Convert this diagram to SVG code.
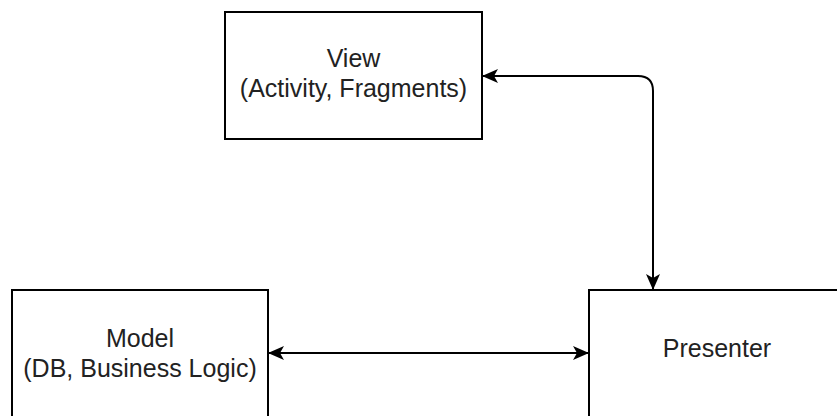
<svg xmlns="http://www.w3.org/2000/svg" width="837" height="416" viewBox="0 0 837 416">
  <style>
    .box { fill: #ffffff; stroke: #000000; stroke-width: 2; }
    .lbl { font-family: "Liberation Sans", Arial, sans-serif; font-size: 25px; fill: #222222; text-anchor: middle; }
    .edge { fill: none; stroke: #000000; stroke-width: 2; }
  </style>
  <defs>
    <marker id="head" viewBox="0 0 16 14" refX="15" refY="7" markerWidth="16" markerHeight="14" markerUnits="userSpaceOnUse" orient="auto-start-reverse">
      <path d="M0,0 L16,7 L0,14 L4,7 Z" fill="#000000"/>
    </marker>
  </defs>
  <rect width="837" height="416" fill="#ffffff"/>

  <g id="view">
    <rect class="box" x="225" y="12" width="257" height="127"/>
    <text class="lbl" x="353.5" y="66.5">View</text>
    <text class="lbl" x="353.5" y="96.5">(Activity, Fragments)</text>
  </g>

  <g id="model">
    <rect class="box" x="12" y="290" width="256" height="140"/>
    <text class="lbl" x="140" y="347">Model</text>
    <text class="lbl" x="140" y="377">(DB, Business Logic)</text>
  </g>

  <g id="presenter">
    <rect class="box" x="589" y="290" width="256" height="140"/>
    <text class="lbl" x="717" y="357">Presenter</text>
  </g>

  <g id="connectors">
    <path class="edge" d="M483,76 L638,76 Q653,76 653,91 L653,289" marker-start="url(#head)" marker-end="url(#head)"/>
    <path class="edge" d="M269,353 L588,353" marker-start="url(#head)" marker-end="url(#head)"/>
  </g>
</svg>
